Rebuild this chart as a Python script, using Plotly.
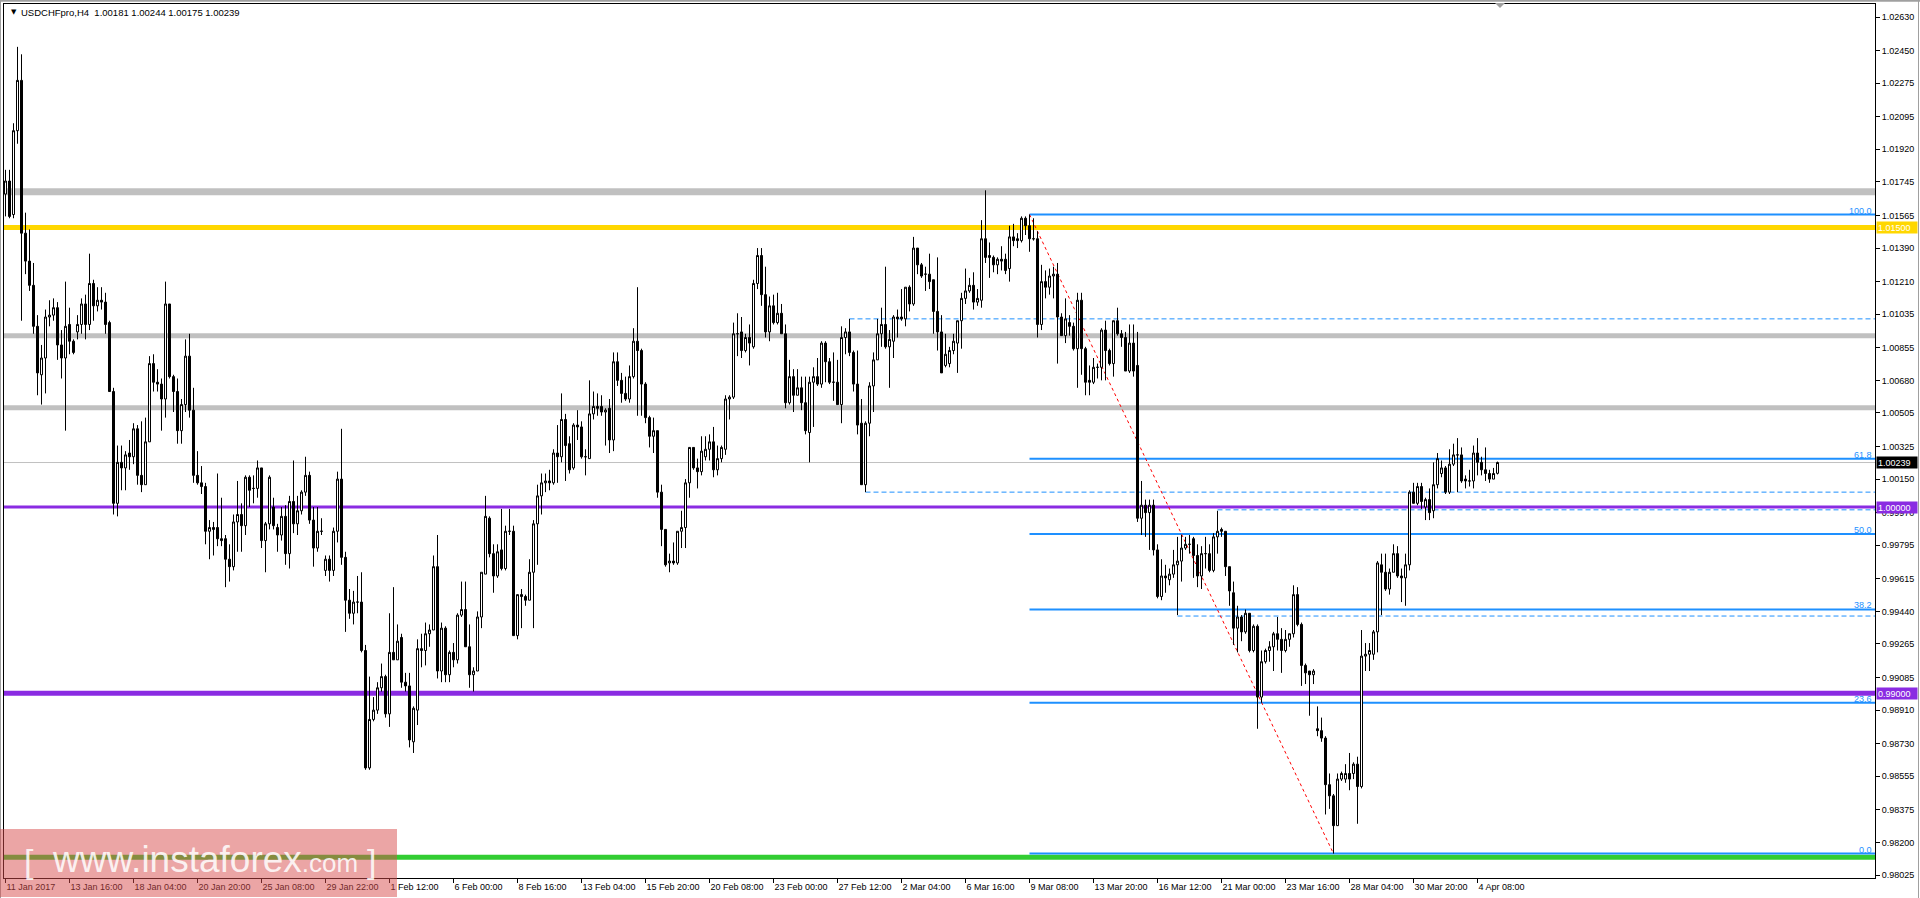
import plotly.graph_objects as go

# ---------------- data (USDCHFpro, H4) ----------------
opens = [
1.0168,1.0175,1.0157,1.0202,1.0229,1.0147,1.0132,1.0119,1.0097,1.0071,
1.0080,1.0102,1.0103,1.0107,1.0087,1.0080,1.0098,1.0089,1.0094,1.0098,
1.0109,1.0098,1.0120,1.0108,1.0111,1.0110,1.0099,1.0062,1.0002,1.0024,
1.0021,1.0029,1.0027,1.0042,1.0017,1.0012,1.0035,1.0077,1.0067,1.0066,
1.0058,1.0109,1.0070,1.0062,1.0041,1.0055,1.0081,1.0052,1.0017,1.0013,
1.0011,0.9987,0.9989,0.9989,0.9983,0.9983,0.9972,0.9968,0.9992,0.9996,
0.9990,1.0016,1.0010,1.0010,1.0021,0.9982,0.9991,1.0000,0.9989,0.9985,
0.9995,0.9975,1.0003,0.9991,0.9998,1.0008,1.0017,0.9993,0.9978,0.9987,
0.9966,0.9972,0.9966,0.9987,1.0015,0.9973,0.9950,0.9943,0.9949,0.9949,
0.9923,0.9860,0.9886,0.9891,0.9903,0.9909,0.9889,0.9922,0.9918,0.9930,
0.9906,0.9904,0.9874,0.9891,0.9924,0.9923,0.9932,0.9934,0.9968,0.9912,
0.9935,0.9910,0.9922,0.9918,0.9942,0.9945,0.9925,0.9910,0.9912,0.9941,
0.9964,0.9994,0.9975,0.9963,0.9977,0.9967,0.9987,0.9987,0.9931,0.9953,
0.9952,0.9950,0.9965,0.9991,1.0006,1.0013,1.0014,1.0013,1.0029,1.0027,
1.0047,1.0034,1.0021,1.0044,1.0043,1.0027,1.0026,1.0050,1.0054,1.0054,
1.0051,1.0053,1.0036,1.0078,1.0068,1.0061,1.0058,1.0070,1.0089,1.0084,
1.0066,1.0048,1.0038,1.0041,1.0008,0.9988,0.9970,0.9971,0.9970,0.9987,
0.9989,1.0013,1.0032,1.0021,1.0019,1.0027,1.0031,1.0035,1.0020,1.0026,
1.0031,1.0058,1.0059,1.0093,1.0094,1.0084,1.0091,1.0086,1.0120,1.0135,
1.0114,1.0094,1.0108,1.0099,1.0104,1.0093,1.0056,1.0070,1.0060,1.0064,
1.0056,1.0040,1.0067,1.0070,1.0066,1.0088,1.0078,1.0067,1.0067,1.0055,
1.0091,1.0094,1.0083,1.0066,1.0045,1.0012,1.0045,1.0065,1.0079,1.0093,
1.0098,1.0086,1.0089,1.0102,1.0102,1.0101,1.0118,1.0109,1.0139,1.0130,
1.0125,1.0125,1.0122,1.0105,1.0094,1.0076,1.0077,1.0084,1.0088,1.0100,
1.0112,1.0116,1.0119,1.0110,1.0111,1.0144,1.0135,1.0134,1.0130,1.0133,
1.0133,1.0128,1.0145,1.0144,1.0143,1.0155,1.0151,1.0144,1.0144,1.0098,
1.0121,1.0118,1.0124,1.0125,1.0102,1.0092,1.0099,1.0097,1.0085,1.0111,
1.0085,1.0068,1.0067,1.0075,1.0075,1.0095,1.0084,1.0077,1.0100,1.0093,
1.0091,1.0073,1.0088,1.0076,0.9994,1.0001,0.9997,1.0001,0.9977,0.9952,
0.9963,0.9961,0.9964,0.9969,0.9971,0.9978,0.9980,0.9983,0.9974,0.9963,
0.9975,0.9975,0.9966,0.9984,0.9988,0.9987,0.9968,0.9954,0.9935,0.9941,
0.9933,0.9943,0.9923,0.9936,0.9898,0.9917,0.9923,0.9925,0.9932,0.9929,
0.9923,0.9929,0.9932,0.9953,0.9937,0.9915,0.9912,0.9910,0.9881,0.9880,
0.9876,0.9851,0.9845,0.9829,0.9854,0.9854,0.9857,0.9857,0.9862,0.9850,
0.9920,0.9921,0.9921,0.9933,0.9969,0.9965,0.9956,0.9965,0.9975,0.9963,
0.9962,0.9969,1.0008,1.0002,1.0011,1.0000,1.0004,0.9998,1.0012,1.0018,
1.0021,1.0008,1.0023,1.0028,1.0028,1.0015,1.0014,1.0014,1.0029,1.0024,
1.0020,1.0018,1.0015,1.00181]

highs = [
1.0181,1.0181,1.0206,1.0247,1.0243,1.0158,1.0149,1.0131,1.0103,1.0087,
1.0106,1.0111,1.0112,1.0110,1.0095,1.0121,1.0107,1.0090,1.0103,1.0112,
1.0114,1.0136,1.0122,1.0118,1.0118,1.0115,1.0100,1.0064,1.0033,1.0033,
1.0030,1.0036,1.0045,1.0044,1.0046,1.0048,1.0081,1.0082,1.0074,1.0069,
1.0121,1.0109,1.0071,1.0069,1.0058,1.0090,1.0093,1.0064,1.0030,1.0022,
1.0013,0.9993,0.9992,1.0018,1.0005,0.9985,0.9980,0.9996,1.0014,1.0002,
1.0017,1.0017,1.0017,1.0025,1.0021,0.9992,1.0017,1.0005,0.9991,1.0000,
1.0001,1.0006,1.0025,1.0006,1.0009,1.0027,1.0019,1.0000,1.0000,0.9994,
0.9974,0.9974,0.9989,1.0019,1.0042,0.9976,0.9956,0.9955,0.9963,0.9965,
0.9926,0.9909,0.9898,0.9906,0.9916,0.9910,0.9943,0.9957,0.9937,0.9932,
0.9911,0.9911,0.9893,0.9929,0.9932,0.9938,0.9937,0.9974,0.9985,0.9938,
0.9936,0.9923,0.9927,0.9943,0.9960,0.9960,0.9937,0.9914,0.9944,0.9965,
1.0006,0.9995,0.9980,0.9980,0.9999,0.9990,0.9999,0.9990,0.9953,0.9956,
0.9953,0.9972,0.9993,1.0012,1.0018,1.0018,1.0020,1.0031,1.0044,1.0061,
1.0050,1.0038,1.0045,1.0052,1.0046,1.0031,1.0068,1.0062,1.0061,1.0060,
1.0053,1.0058,1.0083,1.0083,1.0072,1.0070,1.0076,1.0096,1.0118,1.0085,
1.0067,1.0049,1.0048,1.0041,1.0012,0.9988,0.9975,0.9981,0.9987,0.9998,
1.0015,1.0032,1.0032,1.0026,1.0038,1.0038,1.0039,1.0043,1.0033,1.0033,
1.0060,1.0060,1.0099,1.0104,1.0102,1.0093,1.0098,1.0122,1.0139,1.0139,
1.0129,1.0113,1.0114,1.0115,1.0109,1.0098,1.0079,1.0074,1.0074,1.0070,
1.0070,1.0070,1.0075,1.0080,1.0089,1.0089,1.0080,1.0083,1.0079,1.0097,
1.0096,1.0101,1.0084,1.0084,1.0058,1.0046,1.0067,1.0083,1.0101,1.0107,
1.0129,1.0095,1.0103,1.0106,1.0117,1.0118,1.0119,1.0145,1.0139,1.0131,
1.0129,1.0136,1.0122,1.0134,1.0103,1.0093,1.0086,1.0093,1.0100,1.0115,
1.0128,1.0123,1.0126,1.0117,1.0154,1.0170,1.0142,1.0135,1.0134,1.0140,
1.0136,1.0151,1.0152,1.0147,1.0156,1.0156,1.0157,1.0155,1.0148,1.0130,
1.0127,1.0128,1.0129,1.0131,1.0104,1.0112,1.0103,1.0099,1.0115,1.0115,
1.0086,1.0076,1.0080,1.0077,1.0096,1.0100,1.0085,1.0100,1.0107,1.0095,
1.0094,1.0098,1.0098,1.0094,1.0014,1.0004,1.0004,1.0004,0.9980,0.9972,
0.9969,0.9967,0.9977,0.9984,0.9985,0.9984,0.9985,0.9984,0.9980,0.9979,
0.9984,0.9980,0.9986,0.9998,0.9989,0.9987,0.9968,0.9960,0.9947,0.9942,
0.9945,0.9943,0.9937,0.9937,0.9923,0.9924,0.9928,0.9933,0.9941,0.9935,
0.9934,0.9932,0.9958,0.9957,0.9938,0.9916,0.9912,0.9913,0.9893,0.9887,
0.9877,0.9857,0.9846,0.9857,0.9858,0.9862,0.9868,0.9863,0.9866,0.9934,
0.9927,0.9927,0.9934,0.9971,0.9975,0.9975,0.9967,0.9980,0.9979,0.9967,
0.9975,1.0009,1.0013,1.0013,1.0013,1.0005,1.0010,1.0024,1.0029,1.0025,
1.0022,1.0031,1.0034,1.0037,1.0032,1.0017,1.0020,1.0033,1.0037,1.0027,
1.0032,1.0020,1.0021,1.00244]

lows = [
1.0156,1.0155,1.0155,1.0195,1.0100,1.0125,1.0116,1.0093,1.0060,1.0055,
1.0061,1.0097,1.0100,1.0079,1.0069,1.0041,1.0082,1.0082,1.0090,1.0093,
1.0090,1.0095,1.0100,1.0105,1.0106,1.0093,1.0062,0.9996,0.9995,1.0009,
1.0009,1.0020,1.0023,1.0012,1.0008,1.0012,1.0035,1.0062,1.0062,1.0041,
1.0048,1.0069,1.0051,1.0034,1.0034,1.0051,1.0048,1.0013,1.0012,1.0007,
0.9980,0.9972,0.9974,0.9979,0.9979,0.9957,0.9960,0.9966,0.9976,0.9976,
0.9985,1.0000,1.0002,1.0005,0.9978,0.9965,0.9988,0.9988,0.9976,0.9982,
0.9969,0.9967,0.9986,0.9985,0.9996,1.0006,0.9991,0.9968,0.9976,0.9985,
0.9963,0.9960,0.9963,0.9981,0.9969,0.9933,0.9940,0.9937,0.9943,0.9922,
0.9859,0.9859,0.9885,0.9889,0.9901,0.9887,0.9882,0.9918,0.9918,0.9903,
0.9901,0.9871,0.9868,0.9883,0.9914,0.9915,0.9925,0.9934,0.9908,0.9906,
0.9906,0.9906,0.9914,0.9916,0.9941,0.9925,0.9903,0.9901,0.9912,0.9935,
0.9964,0.9973,0.9954,0.9962,0.9966,0.9966,0.9985,0.9931,0.9929,0.9935,
0.9947,0.9950,0.9935,0.9969,0.9996,1.0008,1.0009,1.0012,1.0013,1.0024,
1.0014,1.0018,1.0020,1.0036,1.0026,1.0017,1.0026,1.0047,1.0049,1.0049,
1.0033,1.0029,1.0030,1.0065,1.0056,1.0057,1.0056,1.0069,1.0049,1.0049,
1.0045,1.0032,1.0029,1.0005,0.9979,0.9968,0.9965,0.9969,0.9969,0.9978,
0.9978,1.0005,1.0020,1.0010,1.0017,1.0025,1.0025,1.0016,1.0017,1.0024,
1.0028,1.0047,1.0058,1.0081,1.0080,1.0083,1.0076,1.0085,1.0117,1.0108,
1.0091,1.0089,1.0098,1.0098,1.0093,1.0053,1.0055,1.0051,1.0060,1.0052,
1.0039,1.0024,1.0043,1.0065,1.0064,1.0067,1.0066,1.0057,1.0055,1.0045,
1.0082,1.0081,1.0062,1.0039,1.0012,1.0008,1.0038,1.0051,1.0079,1.0086,
1.0085,1.0064,1.0080,1.0091,1.0100,1.0097,1.0105,1.0108,1.0125,1.0123,
1.0116,1.0117,1.0093,1.0084,1.0072,1.0075,1.0075,1.0082,1.0072,1.0085,
1.0109,1.0115,1.0106,1.0108,1.0107,1.0131,1.0123,1.0126,1.0125,1.0127,
1.0125,1.0121,1.0140,1.0139,1.0142,1.0146,1.0137,1.0143,1.0091,1.0095,
1.0112,1.0114,1.0112,1.0077,1.0092,1.0088,1.0092,1.0084,1.0064,1.0071,
1.0060,1.0060,1.0066,1.0069,1.0068,1.0068,1.0076,1.0070,1.0092,1.0086,
1.0073,1.0072,1.0070,0.9992,0.9985,0.9984,0.9977,0.9974,0.9951,0.9950,
0.9954,0.9958,0.9962,0.9942,0.9960,0.9977,0.9975,0.9962,0.9957,0.9956,
0.9967,0.9965,0.9965,0.9975,0.9984,0.9963,0.9947,0.9926,0.9922,0.9928,
0.9932,0.9922,0.9922,0.9881,0.9895,0.9916,0.9917,0.9912,0.9923,0.9911,
0.9922,0.9925,0.9930,0.9936,0.9904,0.9905,0.9888,0.9905,0.9877,0.9874,
0.9835,0.9838,0.9814,0.9829,0.9853,0.9852,0.9848,0.9854,0.9830,0.9849,
0.9912,0.9912,0.9918,0.9922,0.9942,0.9955,0.9953,0.9965,0.9962,0.9949,
0.9947,0.9966,1.0002,1.0001,0.9999,0.9993,0.9993,0.9994,1.0010,1.0016,
1.0007,1.0007,1.0022,1.0008,1.0013,1.0010,1.0011,1.0010,1.0017,1.0017,
1.0014,1.0013,1.0015,1.00175]

closes = [
1.0175,1.0156,1.0202,1.0229,1.0147,1.0132,1.0119,1.0097,1.0072,1.0080,
1.0102,1.0103,1.0107,1.0087,1.0080,1.0097,1.0089,1.0083,1.0098,1.0109,
1.0098,1.0120,1.0108,1.0111,1.0110,1.0098,1.0062,1.0002,1.0024,1.0021,
1.0028,1.0027,1.0042,1.0017,1.0012,1.0035,1.0077,1.0067,1.0066,1.0058,
1.0109,1.0070,1.0062,1.0041,1.0055,1.0081,1.0052,1.0017,1.0013,1.0011,
0.9987,0.9989,0.9988,0.9983,0.9982,0.9972,0.9968,0.9992,0.9996,0.9990,
1.0016,1.0009,1.0010,1.0021,0.9982,0.9991,1.0016,0.9990,0.9985,0.9995,
0.9975,1.0003,0.9991,0.9998,1.0008,1.0017,0.9993,0.9978,0.9987,0.9987,
0.9972,0.9966,0.9987,1.0015,0.9973,0.9950,0.9943,0.9949,0.9949,0.9923,
0.9860,0.9886,0.9891,0.9903,0.9909,0.9889,0.9922,0.9918,0.9928,0.9906,
0.9904,0.9875,0.9892,0.9924,0.9923,0.9932,0.9934,0.9968,0.9912,0.9935,
0.9910,0.9922,0.9918,0.9942,0.9945,0.9925,0.9910,0.9912,0.9941,0.9965,
0.9995,0.9975,0.9963,0.9976,0.9967,0.9987,0.9987,0.9931,0.9953,0.9952,
0.9950,0.9965,0.9991,1.0006,1.0013,1.0014,1.0013,1.0029,1.0027,1.0047,
1.0033,1.0020,1.0044,1.0043,1.0027,1.0027,1.0050,1.0054,1.0053,1.0051,
1.0052,1.0036,1.0078,1.0068,1.0061,1.0058,1.0070,1.0089,1.0084,1.0066,
1.0048,1.0038,1.0041,1.0008,0.9988,0.9969,0.9971,0.9970,0.9987,0.9989,
1.0013,1.0032,1.0021,1.0019,1.0030,1.0031,1.0035,1.0020,1.0026,1.0032,
1.0058,1.0059,1.0093,1.0093,1.0084,1.0091,1.0088,1.0120,1.0135,1.0114,
1.0094,1.0108,1.0099,1.0104,1.0093,1.0056,1.0070,1.0060,1.0064,1.0056,
1.0041,1.0067,1.0070,1.0066,1.0088,1.0078,1.0067,1.0067,1.0055,1.0091,
1.0094,1.0083,1.0066,1.0044,1.0012,1.0045,1.0065,1.0079,1.0093,1.0098,
1.0086,1.0090,1.0102,1.0101,1.0101,1.0118,1.0109,1.0139,1.0130,1.0124,
1.0125,1.0121,1.0105,1.0094,1.0072,1.0082,1.0084,1.0089,1.0100,1.0112,
1.0116,1.0119,1.0110,1.0112,1.0144,1.0134,1.0134,1.0130,1.0133,1.0132,
1.0127,1.0145,1.0143,1.0143,1.0155,1.0151,1.0144,1.0144,1.0098,1.0121,
1.0118,1.0124,1.0125,1.0102,1.0092,1.0101,1.0097,1.0085,1.0111,1.0085,
1.0067,1.0067,1.0075,1.0075,1.0095,1.0084,1.0077,1.0100,1.0093,1.0091,
1.0073,1.0088,1.0073,0.9994,1.0001,0.9997,1.0001,0.9977,0.9952,0.9963,
0.9962,0.9964,0.9969,0.9971,0.9978,0.9980,0.9980,0.9974,0.9963,0.9975,
0.9975,0.9966,0.9984,0.9987,0.9987,0.9968,0.9955,0.9935,0.9941,0.9933,
0.9943,0.9923,0.9936,0.9898,0.9917,0.9923,0.9925,0.9932,0.9929,0.9923,
0.9929,0.9932,0.9953,0.9937,0.9915,0.9911,0.9910,0.9912,0.9880,0.9876,
0.9851,0.9845,0.9829,0.9854,0.9857,0.9857,0.9854,0.9862,0.9850,0.9920,
0.9921,0.9923,0.9933,0.9970,0.9965,0.9956,0.9965,0.9975,0.9963,0.9962,
0.9969,1.0008,1.0002,1.0011,1.0003,1.0004,0.9997,1.0012,1.0026,1.0021,
1.0008,1.0023,1.0028,1.0028,1.0014,1.0014,1.0014,1.0029,1.0024,1.0020,
1.0018,1.0015,1.0018,1.00239]

x_tick_labels = ["11 Jan 2017", "13 Jan 16:00", "18 Jan 04:00", "20 Jan 20:00",
                 "25 Jan 08:00", "29 Jan 22:00", "1 Feb 12:00", "6 Feb 00:00",
                 "8 Feb 16:00", "13 Feb 04:00", "15 Feb 20:00", "20 Feb 08:00",
                 "23 Feb 00:00", "27 Feb 12:00", "2 Mar 04:00", "6 Mar 16:00",
                 "9 Mar 08:00", "13 Mar 20:00", "16 Mar 12:00", "21 Mar 00:00",
                 "23 Mar 16:00", "28 Mar 04:00", "30 Mar 20:00", "4 Apr 08:00"]
bars_per_label = 16

y_tick_values = [1.02630, 1.02450, 1.02275, 1.02095, 1.01920, 1.01745, 1.01565,
                 1.01390, 1.01210, 1.01035, 1.00855, 1.00680, 1.00505, 1.00325,
                 1.00150, 0.99970, 0.99795, 0.99615, 0.99440, 0.99265, 0.99085,
                 0.98910, 0.98730, 0.98555, 0.98375, 0.98200, 0.98025]

gray_levels = [1.01692, 1.00919, 1.00533]
yellow_level = 1.01500
purple_levels = [1.00000, 0.99000]
green_level = 0.98121
current_price = 1.00239

fib_high_bar = 256
fib_low_bar = 332
fib_ratios = [0.0, 0.236, 0.382, 0.5, 0.618, 1.0]
fib_texts = ["0.0", "23.6", "38.2", "50.0", "61.8", "100.0"]

ray_bars = [211, 215, 293, 303]
ray_prices = [1.0101, 1.0008, 0.99415, 0.99985]

title_text = "USDCHFpro,H4\u00a0\u00a0" + " ".join(["1.00181", "1.00244", "1.00175", "1.00239"])

# ---------------- layout geometry ----------------
W, H = 1920, 898
L_PX, R_PX, T_PX, B_PX = 4, 1875, 4, 878
PW, PH = R_PX - L_PX, B_PX - T_PX
X_RANGE = [-0.375, -0.375 + PW / 4.0]
Y_RANGE = [0.98009, 1.02700]

def pxx(p):
    return (p - L_PX) / PW

def pxy(p):
    return (B_PX - p) / PH

FONT = "Liberation Sans, Arial, sans-serif"
BLUE = "#1E90FF"
PURPLE = "#8A2BE2"
GOLD = "#FFD700"
GRAY = "#C0C0C0"

n = len(closes)
fig = go.Figure()
fig.add_trace(go.Candlestick(
    x=list(range(n)), open=opens, high=highs, low=lows, close=closes,
    increasing=dict(line=dict(color="black", width=1), fillcolor="white"),
    decreasing=dict(line=dict(color="black", width=1), fillcolor="black"),
    whiskerwidth=0, hoverinfo="skip", showlegend=False))

shapes = []
def hline(y, color, width, dash="solid", x0=None, layer="below"):
    if x0 is None:
        shapes.append(dict(type="line", xref="paper", yref="y", x0=0, x1=1, y0=y, y1=y,
                           line=dict(color=color, width=width, dash=dash), layer=layer))
    else:
        shapes.append(dict(type="line", xref="x", yref="y", x0=x0, x1=X_RANGE[1], y0=y, y1=y,
                           line=dict(color=color, width=width, dash=dash), layer=layer))

hline(current_price, GRAY, 1)
hline(gray_levels[0], GRAY, 7)
for g in gray_levels[1:]:
    hline(g, GRAY, 5)
hline(yellow_level, GOLD, 5)
hline(purple_levels[0], PURPLE, 3)
hline(purple_levels[1], PURPLE, 5)
hline(green_level, "#32CD32", 5)

for b, p in zip(ray_bars, ray_prices):
    hline(p, BLUE, 1, dash="5px,3px", x0=b)

f_hi = highs[fib_high_bar]
f_lo = lows[fib_low_bar]
fib_levels = [f_lo + r * (f_hi - f_lo) for r in fib_ratios]
for lv in fib_levels:
    hline(lv, BLUE, 2, x0=fib_high_bar)

shapes.append(dict(type="line", xref="x", yref="y", x0=fib_high_bar, y0=f_hi,
                   x1=fib_low_bar, y1=f_lo, line=dict(color="red", width=1, dash="dot"),
                   layer="below"))

# chart-shift marker & window frame
shapes.append(dict(type="path", xref="paper", yref="paper",
                   path=f"M {pxx(1495)} {pxy(3)} L {pxx(1505)} {pxy(3)} L {pxx(1500)} {pxy(8)} Z",
                   fillcolor="#A0A0A0", line=dict(width=0), layer="above"))
shapes.append(dict(type="line", xref="paper", yref="paper", x0=pxx(0), x1=pxx(1920),
                   y0=pxy(0.8), y1=pxy(0.8), line=dict(color="#A0A0A0", width=2), layer="above"))
shapes.append(dict(type="line", xref="paper", yref="paper", x0=pxx(0.5), x1=pxx(0.5),
                   y0=pxy(0), y1=pxy(898), line=dict(color="#A0A0A0", width=1), layer="above"))
shapes.append(dict(type="line", xref="paper", yref="paper", x0=pxx(1918.5), x1=pxx(1918.5),
                   y0=pxy(0), y1=pxy(898), line=dict(color="#A0A0A0", width=1), layer="above"))

# watermark box
shapes.append(dict(type="rect", xref="paper", yref="paper", x0=pxx(0), x1=pxx(397),
                   y0=pxy(897), y1=pxy(829), fillcolor="rgba(215,75,75,0.5)",
                   line=dict(width=0), layer="above"))

annotations = []
# title
annotations.append(dict(xref="paper", yref="paper", x=pxx(9), y=pxy(12.5), xanchor="left",
                        yanchor="middle", showarrow=False, text="\u25BC",
                        font=dict(family="DejaVu Sans", size=7, color="black")))
annotations.append(dict(xref="paper", yref="paper", x=pxx(19), y=pxy(12.5), xanchor="left",
                        yanchor="middle", showarrow=False, text=title_text,
                        font=dict(family=FONT, size=9.5, color="black")))

# fib labels
for lv, t in zip(fib_levels, fib_texts):
    annotations.append(dict(xref="paper", yref="y", x=1, y=lv, xanchor="right",
                            yanchor="bottom", xshift=-1, yshift=-3, showarrow=False, text=t,
                            font=dict(family=FONT, size=9, color=BLUE)))

# price boxes on the axis
for val, col in [(yellow_level, GOLD), (purple_levels[0], PURPLE),
                 (purple_levels[1], PURPLE), (current_price, "black")]:
    annotations.append(dict(xref="paper", yref="y", x=1, y=val, xanchor="left",
                            yanchor="middle", xshift=1, showarrow=False,
                            text=f"{val:.5f}", bgcolor=col, borderpad=1, width=38, height=9,
                            align="left", font=dict(family=FONT, size=9, color="white")))

# watermark text
WM_FONT = "Liberation Sans, Arial, sans-serif"
WM_COL = "rgba(255,255,255,0.85)"
annotations.append(dict(xref="paper", yref="paper", x=pxx(29), y=pxy(861), xanchor="center",
                        yanchor="middle", showarrow=False, text="[",
                        font=dict(family=WM_FONT, size=34, color=WM_COL)))
annotations.append(dict(xref="paper", yref="paper", x=pxx(371), y=pxy(861), xanchor="center",
                        yanchor="middle", showarrow=False, text="]",
                        font=dict(family=WM_FONT, size=34, color=WM_COL)))
annotations.append(dict(xref="paper", yref="paper", x=pxx(50), y=pxy(859), xanchor="left",
                        yanchor="middle", showarrow=False,
                        text='www.instaforex<span style="font-size:26px">.com</span>',
                        font=dict(family=WM_FONT, size=37, color=WM_COL)))

tick_pos = [k * bars_per_label for k in range(len(x_tick_labels))]

fig.update_layout(
    width=W, height=H, margin=dict(l=L_PX, r=W - R_PX, t=T_PX, b=H - B_PX, pad=0),
    paper_bgcolor="white", plot_bgcolor="white", showlegend=False,
    boxgap=0, boxgroupgap=0.5,
    shapes=shapes, annotations=annotations,
    xaxis=dict(range=X_RANGE, rangeslider=dict(visible=False), showgrid=False, zeroline=False,
               tickmode="array", tickvals=tick_pos, ticktext=x_tick_labels,
               ticks="outside", ticklen=4, tickcolor="black", tickwidth=1,
               ticklabelposition="outside right", ticklabeloverflow="allow",
               tickfont=dict(family=FONT, size=9, color="black"),
               showline=True, linecolor="black", linewidth=1, mirror=True,
               automargin=False, fixedrange=True),
    yaxis=dict(range=Y_RANGE, side="right", showgrid=False, zeroline=False,
               tickmode="array", tickvals=y_tick_values,
               ticktext=[f"{v:.5f}" for v in y_tick_values],
               ticks="outside", ticklen=4, tickcolor="black", tickwidth=1,
               tickfont=dict(family=FONT, size=9, color="black"),
               showline=True, linecolor="black", linewidth=1, mirror=True,
               automargin=False, fixedrange=True),
)

fig.write_html(
    "out.html",
    config={"displayModeBar": False},
    post_script="document.body.style.margin='0px';document.body.style.overflow='hidden';",
)
